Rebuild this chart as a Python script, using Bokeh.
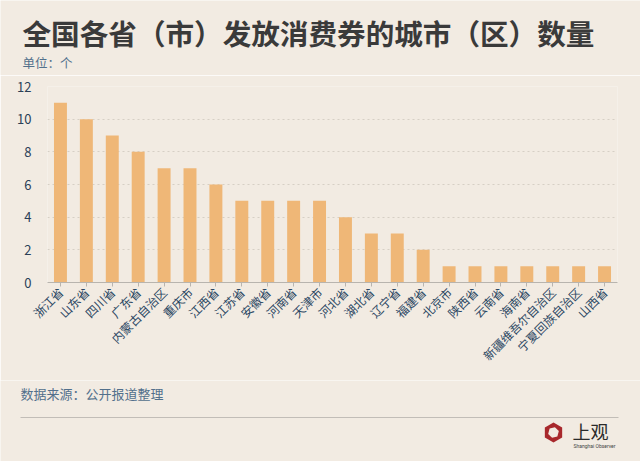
import numpy as np
from bokeh.plotting import figure
from bokeh.layouts import column
from bokeh.models import FixedTicker, Range1d
from bokeh.core.properties import value
from bokeh.embed import file_html
from bokeh.resources import INLINE

# ---- data ----
provinces = ["浙江省", "山东省", "四川省", "广东省", "内蒙古自治区", "重庆市", "江西省",
             "江苏省", "安徽省", "河南省", "天津市", "河北省", "湖北省", "辽宁省",
             "福建省", "北京市", "陕西省", "云南省", "海南省", "新疆维吾尔自治区",
             "宁夏回族自治区", "山西省"]
counts = [11, 10, 9, 8, 7, 7, 6, 5, 5, 5, 5, 4, 3, 3, 2, 1, 1, 1, 1, 1, 1, 1]
y_ticks = [0, 2, 4, 6, 8, 10, 12]

title_text = "全国各省（市）发放消费券的城市（区）数量"
unit_text = "单位：个"
source_text = "数据来源：公开报道整理"

BG = "#f2ebe2"
BAR = "#efb777"
FONT = "Noto Sans CJK SC"
W = 640
H_TOP, H_MID, H_BOT = 75, 305, 81   # header / chart / footer heights


def blank(y0, h):
    f = figure(width=W, height=h, x_range=Range1d(0, W), y_range=Range1d(y0 + h, y0),
               output_backend="svg", toolbar_location=None,
               x_axis_location=None, y_axis_location=None,
               min_border=0, min_border_left=0, min_border_right=0,
               min_border_top=0, min_border_bottom=0, frame_align=False)
    f.background_fill_color = BG
    f.border_fill_color = BG
    f.outline_line_color = None
    f.grid.visible = False
    return f


# ---- header ----
head = blank(0, H_TOP)
head.text(x=[22], y=[32], text=[title_text], text_font=value(FONT),
          text_font_size="28.6px", text_font_style="bold", text_color="#3a3a3a",
          text_baseline="middle")
head.text(x=[22], y=[62], text=[unit_text], text_font=value(FONT),
          text_font_size="12.5px", text_color="#52708c", text_baseline="middle")

# ---- chart ----
FL, FR, FT, FB = 47, 617, 86, 282
p = figure(x_range=provinces, y_range=(0, 12), width=W, height=H_MID,
           output_backend="svg", toolbar_location=None,
           min_border_left=FL, min_border_right=W - FR,
           min_border_top=FT - H_TOP, min_border_bottom=H_TOP + H_MID - FB,
           frame_align=False)
p.background_fill_color = BG
p.border_fill_color = BG
p.outline_line_color = None

p.vbar(x=provinces, top=counts, width=0.5, color=BAR, line_color=None)

p.yaxis.ticker = FixedTicker(ticks=y_ticks)
p.yaxis.axis_line_color = None
p.yaxis.major_tick_line_color = None
p.yaxis.minor_tick_line_color = None
p.yaxis.major_label_text_font = FONT
p.yaxis.major_label_text_font_size = "13px"
p.yaxis.major_label_text_color = "#2b3f57"
p.yaxis.major_label_standoff = 10

p.xaxis.axis_line_color = "#b8b4ae"
p.xaxis.major_tick_line_color = "#b8b4ae"
p.xaxis.major_tick_in = 0
p.xaxis.major_tick_out = 4
p.xaxis.major_label_orientation = np.pi / 4
p.xaxis.major_label_text_font = FONT
p.xaxis.major_label_text_font_size = "12px"
p.xaxis.major_label_text_color = "#2b4763"
p.xaxis.major_label_standoff = 3

p.xgrid.grid_line_color = None
p.ygrid.grid_line_color = "#d6cfc5"
p.ygrid.grid_line_dash = "2 3"

# ---- footer ----
y0 = H_TOP + H_MID
foot = blank(y0, H_BOT)
foot.text(x=[20], y=[393], text=[source_text], text_font=value(FONT),
          text_font_size="13px", text_color="#52708c", text_baseline="middle")
foot.segment(x0=[20], y0=[417], x1=[618], y1=[417], line_color="#c2bdb7", line_width=1)

cx, cy = 553, 432
ang = np.deg2rad(90 + 60 * np.arange(6))
foot.patch(x=cx + 10 * np.cos(ang), y=cy - 10 * np.sin(ang),
           fill_color="#a8282c", line_color=None)
ang2 = np.deg2rad(75 + 60 * np.arange(6))
foot.patch(x=cx + 5.5 * np.cos(ang2), y=cy - 5.5 * np.sin(ang2),
           fill_color=BG, line_color=None)
foot.text(x=[572], y=[430], text=["上观"], text_font=value(FONT),
          text_font_size="18px", text_color="#2a2a2a", text_baseline="middle")
foot.text(x=[573], y=[445], text=["Shanghai Observer"], text_font=value("Roboto"),
          text_font_size="5px", text_color="#444444", text_baseline="middle")

layout = column(head, p, foot, spacing=0)
open("out.html", "w").write(file_html(layout, INLINE))
